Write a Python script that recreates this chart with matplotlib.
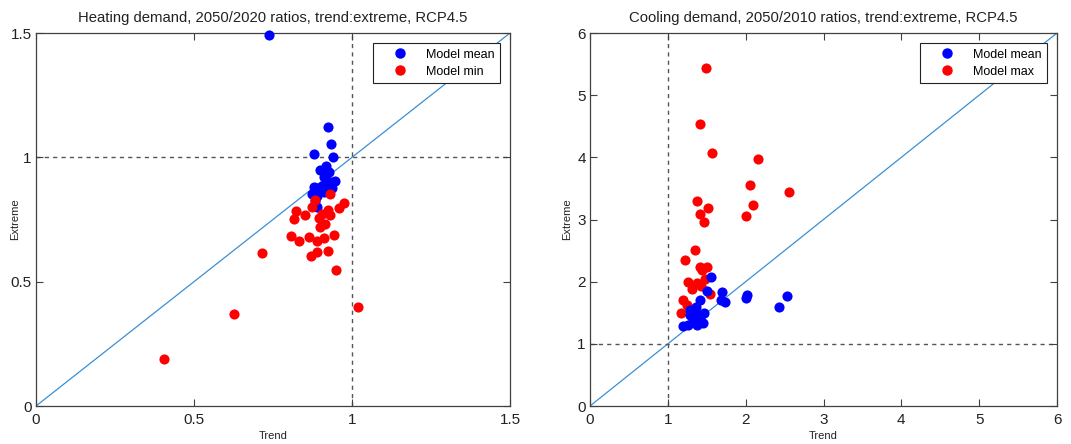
import matplotlib
matplotlib.use("Agg")
import matplotlib.pyplot as plt
from matplotlib.lines import Line2D

plt.rcParams['font.family'] = ['Liberation Sans', 'DejaVu Sans']

# ---------------- Heating (left) ----------------
heat_mean_x = [0.737, 0.923, 0.932, 0.880, 0.940, 0.919, 0.900, 0.926, 0.910, 0.935,
               0.920, 0.879, 0.895, 0.905, 0.926, 0.873, 0.889, 0.910, 0.884, 0.889,
               0.946, 0.937, 0.889, 0.915]
heat_mean_y = [1.49, 1.123, 1.052, 1.013, 1.000, 0.967, 0.949, 0.940, 0.920, 0.900,
               0.906, 0.880, 0.873, 0.886, 0.880, 0.853, 0.846, 0.860, 0.826, 0.800,
               0.904, 0.875, 0.875, 0.867]
heat_min_x = [0.931, 0.882, 0.976, 0.960, 0.873, 0.824, 0.923, 0.905, 0.931, 0.852,
              0.815, 0.895, 0.916, 0.900, 0.807, 0.833, 0.865, 0.888, 0.910, 0.942,
              0.924, 0.889, 0.869, 0.949, 0.715, 0.626, 0.406, 1.019]
heat_min_y = [0.853, 0.829, 0.815, 0.797, 0.800, 0.783, 0.788, 0.772, 0.770, 0.767,
              0.751, 0.756, 0.730, 0.719, 0.685, 0.665, 0.679, 0.663, 0.675, 0.688,
              0.625, 0.618, 0.602, 0.548, 0.616, 0.371, 0.190, 0.400]
heat_ticks = [0, 0.5, 1, 1.5]
heat_ticklabels = ['0', '0.5', '1', '1.5']

# ---------------- Cooling (right) ----------------
cool_mean_x = [1.56, 1.505, 1.70, 1.73, 1.68, 2.02, 2.01, 2.53, 2.43, 1.41,
               1.36, 1.34, 1.29, 1.43, 1.385, 1.32, 1.45, 1.377, 1.20, 1.265,
               1.47, 1.28]
cool_mean_y = [2.07, 1.85, 1.83, 1.67, 1.71, 1.79, 1.74, 1.77, 1.59, 1.71,
               1.59, 1.49, 1.46, 1.46, 1.41, 1.38, 1.34, 1.30, 1.28, 1.30,
               1.49, 1.55]
cool_max_x = [1.484, 1.415, 1.573, 2.16, 2.05, 2.56, 2.10, 1.372, 1.518, 1.407,
              2.006, 1.462, 1.355, 1.218, 1.415, 1.50, 1.44, 1.48, 1.257, 1.376,
              1.308, 1.42, 1.543, 1.20, 1.248, 1.163]
cool_max_y = [5.43, 4.54, 4.07, 3.97, 3.55, 3.44, 3.23, 3.30, 3.19, 3.09,
              3.05, 2.96, 2.51, 2.35, 2.23, 2.23, 2.18, 2.04, 2.00, 1.98,
              1.89, 1.93, 1.80, 1.71, 1.62, 1.49]
cool_ticks = [0, 1, 2, 3, 4, 5, 6]

fig = plt.figure(figsize=(10.71, 4.44), dpi=100)
ax1 = fig.add_axes([36/1071, 38/444, 474/1071, 373/444])
ax2 = fig.add_axes([590/1071, 38/444, 467/1071, 373/444])

spine_col = '#404040'
ms = 7.3

def style(ax, lim, ticks, labels, title, leg2, ylab_x):
    ax.set_xlim(0, lim)
    ax.set_ylim(0, lim)
    ax.plot([0, lim], [0, lim], color='#3b8fd6', lw=0.9, zorder=1)
    ax.axvline(1, color='#555555', ls=(0, (3, 3)), lw=1.0, zorder=1)
    ax.axhline(1, color='#555555', ls=(0, (3, 3)), lw=1.0, zorder=1)
    ax.set_xticks(ticks)
    ax.set_yticks(ticks)
    ax.set_xticklabels(labels)
    ax.set_yticklabels(labels)
    ax.tick_params(direction='in', length=5, width=0.8, colors=spine_col,
                   labelcolor='#222222', labelsize=11, top=True, right=True)
    ax.tick_params(axis='x', pad=5)
    ax.tick_params(axis='y', pad=3)
    for s in ax.spines.values():
        s.set_color(spine_col)
        s.set_linewidth(0.9)
    ax.set_title(title, fontsize=10.7, color='#222222', pad=8)
    ax.set_xlabel('Trend', fontsize=8, color='#222222', labelpad=3)
    ax.set_ylabel('Extreme', fontsize=8, color='#222222')
    ax.yaxis.set_label_coords(ylab_x, 0.5)
    handles = [Line2D([], [], marker='o', ls='none', color='#0000ff', markersize=6.5),
               Line2D([], [], marker='o', ls='none', color='#ff0000', markersize=6.5)]
    leg = ax.legend(handles, ['Model mean', leg2], loc='upper right', fontsize=9,
                    fancybox=False, edgecolor='#222222', framealpha=1,
                    borderaxespad=0.8, handletextpad=0.3, borderpad=0.45,
                    labelspacing=0.42, handlelength=3.5)
    leg.get_frame().set_linewidth(0.8)

# left
ax1.plot(heat_mean_x, heat_mean_y, 'o', color='#0000ff', markersize=ms,
         markeredgewidth=0, zorder=3, clip_on=False)
ax1.plot(heat_min_x, heat_min_y, 'o', color='#ff0000', markersize=ms,
         markeredgewidth=0, zorder=4, clip_on=False)
style(ax1, 1.5, heat_ticks, heat_ticklabels,
      'Heating demand, 2050/2020 ratios, trend:extreme, RCP4.5', 'Model min', -0.033)

# right
ax2.plot(cool_max_x, cool_max_y, 'o', color='#ff0000', markersize=ms,
         markeredgewidth=0, zorder=3, clip_on=False)
ax2.plot(cool_mean_x, cool_mean_y, 'o', color='#0000ff', markersize=ms,
         markeredgewidth=0, zorder=4, clip_on=False)
style(ax2, 6, cool_ticks, [str(t) for t in cool_ticks],
      'Cooling demand, 2050/2010 ratios, trend:extreme, RCP4.5', 'Model max', -0.038)

fig.savefig('out.png', dpi=100)
